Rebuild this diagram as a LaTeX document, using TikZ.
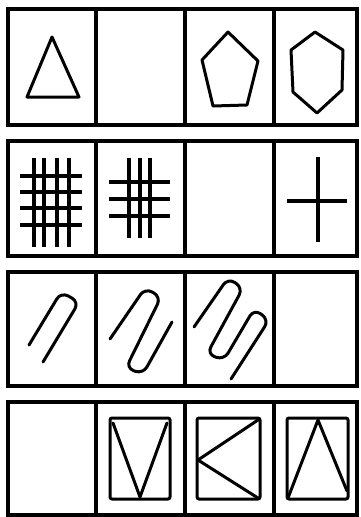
\documentclass[tikz,border=0pt]{standalone}

\newcommand*{\xleft}{8}
\newcommand*{\xright}{357}

\begin{document}
\begin{tikzpicture}
[
	x=1pt, y=-1pt,
	frame/.style={line width=3.2pt},
	figure/.style={line width=3pt, line join=round, line cap=round},
	bar/.style={line width=4.5pt},
	clip/.style={line width=3pt, rounded corners=8pt, line cap=round}
]
	\useasboundingbox (0,0) rectangle (360,517);

	% frames of the four rows
	\foreach \ytop/\ybot in {9/125, 141/256, 272/386, 402/515}
	{
		\draw[frame] (\xleft,\ytop) rectangle (\xright,\ybot);
		\foreach \xdiv in {96,185,274}
			\draw[frame] (\xdiv,\ytop) -- (\xdiv,\ybot);
	}

	% row 1: polygons
	\draw[figure] (52,37) -- (79,97) -- (27,97) -- cycle;
	\draw[figure] (228,32) -- (258,61) -- (247,105) -- (213,106) -- (202,60) -- cycle;
	\draw[figure] (315,32) -- (343,50) -- (342,90) -- (317,113) -- (293,92) -- (291,50) -- cycle;

	% row 2: grids
	\foreach \xv in {34,44,57,69}
		\draw[bar] (\xv,158) -- (\xv,247);
	\foreach \yh in {176,192,208,225}
		\draw[bar] (20,\yh) -- (82,\yh);

	\foreach \xv in {129,140,150}
		\draw[bar] (\xv,158) -- (\xv,238);
	\foreach \yh in {182,199,216}
		\draw[bar] (109,\yh) -- (170,\yh);

	\draw[bar] (318,157) -- (318,242);
	\draw[bar] (287,201) -- (347,201);

	% row 3: zigzags
	\draw[clip] (29,345) -- (61,292) -- (79,302) -- (43,362);
	\draw[clip] (110,339) -- (145,288) -- (161,297) -- (126,368) -- (143,374) -- (172,322);
	\draw[clip] (194,327) -- (228,278) -- (243,288) -- (207,354) -- (224,360) -- (254,309) -- (269,320) -- (231,379);

	% row 4: boxes with lines
	\draw[figure, rounded corners=2pt] (110,418) rectangle (170,499);
	\draw[figure] (113,423) -- (140,497) -- (167,423);

	\draw[figure, rounded corners=2pt] (197,418) rectangle (260,499);
	\draw[figure] (258,420) -- (198,460) -- (258,498);

	\draw[figure, rounded corners=2pt] (287,418) rectangle (348,499);
	\draw[figure] (288,498) -- (318,420) -- (347,491);

\end{tikzpicture}
\end{document}
